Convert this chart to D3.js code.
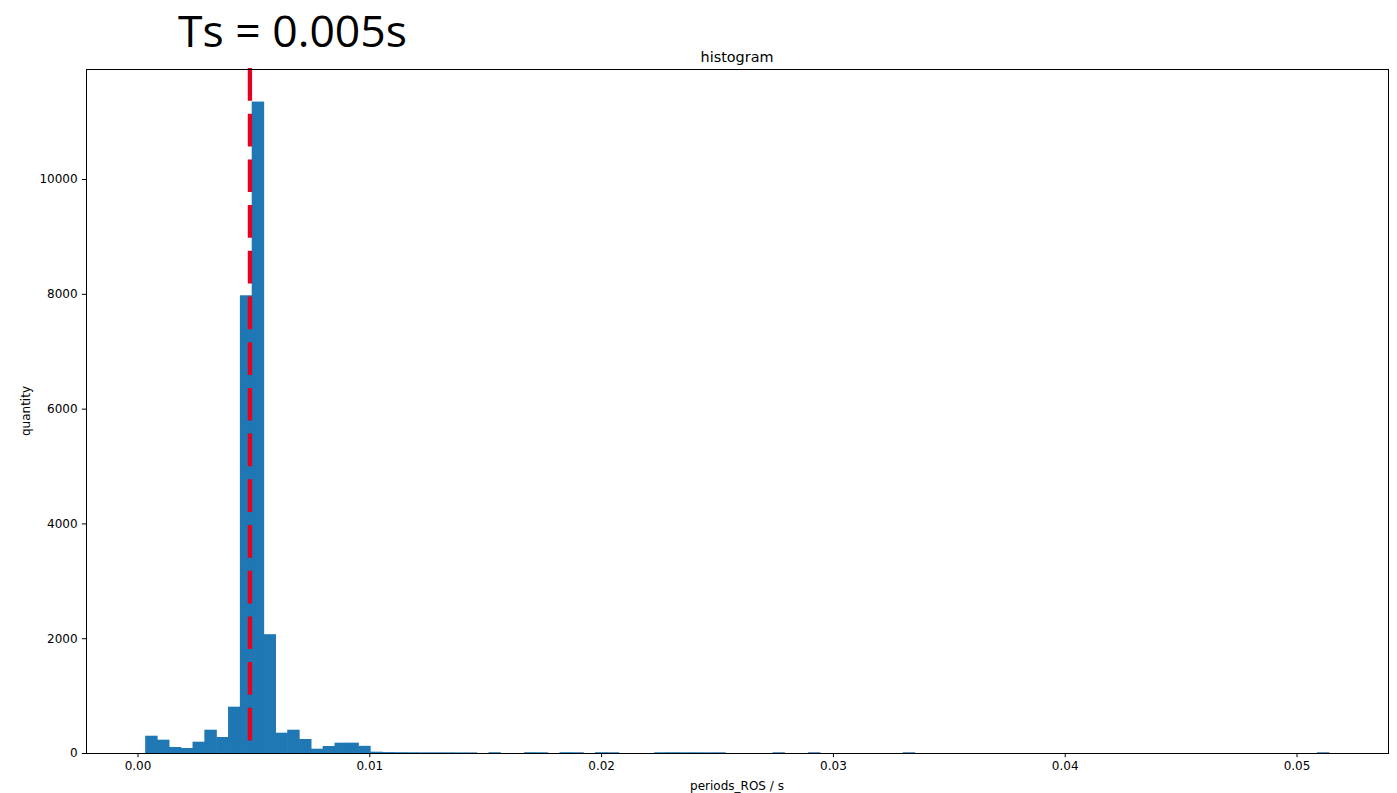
<!DOCTYPE html>
<html>
<head>
<meta charset="utf-8">
<script src="https://cdn.jsdelivr.net/npm/d3@7"></script>
<style>
  html, body { margin: 0; padding: 0; background: #fff; }
  svg { display: block; }
  .tick text { font-family: "DejaVu Sans", sans-serif; font-size: 12px; fill: #000; }
</style>
</head>
<body>
<svg id="chart" width="1397" height="793"></svg>
<script>
// ---- data ----
const binStart = 0.000331;      // left edge of the first bin (s)
const binWidth = 0.00051062;    // histogram bin width (s)
const counts = [
  301, 232, 105, 87, 197, 406, 279, 807, 7975, 11350,
  2070, 354, 406, 244, 75, 122, 180, 180, 125, 23,
  16, 14, 13, 12, 12, 12, 11, 11, 0, 14,
  0, 0, 14, 13, 0, 14, 13, 0, 14, 13,
  0, 0, 0, 13, 14, 13, 13, 12, 13, 0,
  0, 0, 0, 13, 0, 0, 13, 0, 0, 0,
  0, 0, 0, 0, 13, 0, 0, 0, 0, 0,
  0, 0, 0, 0, 0, 0, 0, 0, 0, 0,
  0, 0, 0, 0, 0, 0, 0, 0, 0, 0,
  0, 0, 0, 0, 0, 0, 0, 0, 0, 13
];
const xTicks = [0.00, 0.01, 0.02, 0.03, 0.04, 0.05];
const yTicks = [0, 2000, 4000, 6000, 8000, 10000];
const tsValue = 0.00485;        // position of the dashed marker line
const annotation = "Ts = 0.005s";
const chartTitle = "histogram";
const xLabel = "periods_ROS / s";
const yLabel = "quantity";

// ---- layout ----
const svg = d3.select("#chart");
const L = 86, R = 1388, T = 69, B = 753;

const bins = counts.map((c, i) => ({ x0: binStart + i * binWidth, x1: binStart + (i + 1) * binWidth, c }));
const span = bins[bins.length - 1].x1 - bins[0].x0;
const x = d3.scaleLinear()
  .domain([bins[0].x0 - 0.05 * span, bins[bins.length - 1].x1 + 0.05 * span])
  .range([L, R]);
const y = d3.scaleLinear()
  .domain([0, d3.max(counts) * 1.05])
  .range([B, T]);

// bars (slight overlap hides anti-aliasing seams between neighbours)
svg.append("g").selectAll("rect")
  .data(bins.filter(d => d.c > 0))
  .join("rect")
  .attr("x", d => x(d.x0))
  .attr("width", d => x(d.x1) - x(d.x0) + 0.6)
  .attr("y", d => y(d.c))
  .attr("height", d => y(0) - y(d.c))
  .attr("fill", "#1f77b4");

// dashed line
svg.append("line")
  .attr("x1", x(tsValue)).attr("x2", x(tsValue))
  .attr("y1", T - 1).attr("y2", B)
  .attr("stroke", "#e6001e")
  .attr("stroke-width", 4.3)
  .attr("stroke-dasharray", "32.7,13");

// axes
const xAxis = d3.axisBottom(x).tickValues(xTicks).tickFormat(d3.format(".2f"))
  .tickSize(4.2).tickPadding(4.2).tickSizeOuter(0);
const yAxis = d3.axisLeft(y).tickValues(yTicks).tickFormat(d3.format("d"))
  .tickSize(4.2).tickPadding(4.2).tickSizeOuter(0);

const gx = svg.append("g").attr("transform", `translate(0,${B})`).call(xAxis);
const gy = svg.append("g").attr("transform", `translate(${L},0)`).call(yAxis);
[gx, gy].forEach(g => {
  g.select(".domain").remove();
  g.selectAll(".tick line").attr("stroke", "#000").attr("stroke-width", 1);
});

// frame
svg.append("rect")
  .attr("x", L).attr("y", T).attr("width", R - L).attr("height", B - T)
  .attr("fill", "none").attr("stroke", "#000").attr("stroke-width", 1)
  .attr("shape-rendering", "crispEdges");

// texts
svg.append("text")
  .attr("x", (L + R) / 2).attr("y", T - 7.2)
  .attr("text-anchor", "middle")
  .attr("font-family", "DejaVu Sans, sans-serif").attr("font-size", 14.4)
  .text(chartTitle);

svg.append("text")
  .attr("x", (L + R) / 2).attr("y", 790)
  .attr("text-anchor", "middle")
  .attr("font-family", "DejaVu Sans, sans-serif").attr("font-size", 12)
  .text(xLabel);

svg.append("text")
  .attr("transform", `translate(30,${(T + B) / 2}) rotate(-90)`)
  .attr("text-anchor", "middle")
  .attr("font-family", "DejaVu Sans, sans-serif").attr("font-size", 12)
  .text(yLabel);

svg.append("text")
  .attr("x", 178).attr("y", 47)
  .attr("font-family", "Open Sans, sans-serif").attr("font-size", 44.5)
  .text(annotation);
</script>
</body>
</html>
